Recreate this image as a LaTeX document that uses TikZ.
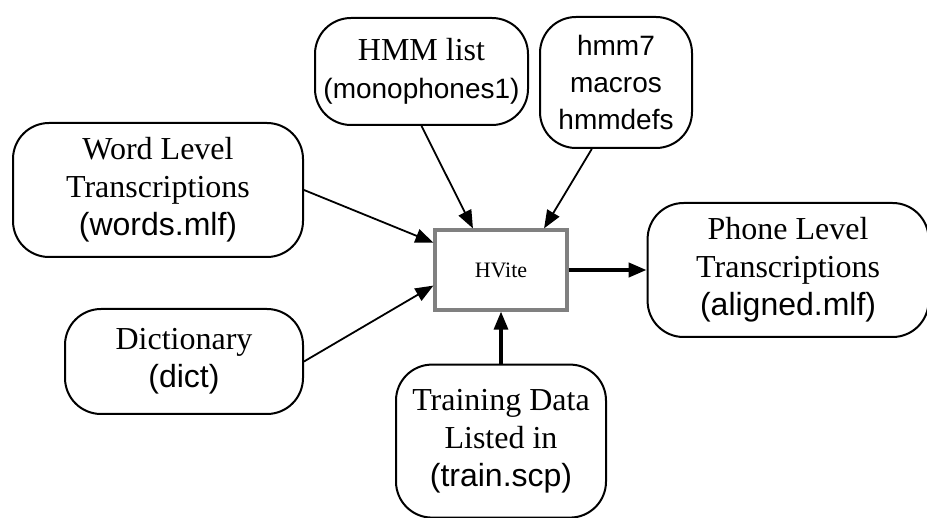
\documentclass[tikz,border=0pt]{standalone}
\usepackage{fontspec}
\setmainfont{Liberation Serif}
\setsansfont{Liberation Sans}
\usepackage{tikz}
\usetikzlibrary{positioning, arrows.meta}

\begin{document}
\begin{tikzpicture}[x = 0.5pt, y = -0.5pt,
                    file/.style = {draw, line width = 1pt, rounded corners = 18pt, align = center,
                                   inner sep = 0pt, font = \fontsize{16}{19}\selectfont},
                    tool/.style = {draw = gray, line width = 1.6pt, minimum width = 66pt,
                                   minimum height = 40pt, font = \fontsize{11}{13}\selectfont},
                    arr/.style = {-{Triangle[length = 9pt, width = 7pt]}, line width = 0.9pt}]
                    \useasboundingbox (0,0) rectangle (927,518);
                    \node[tool] at (501,270) (V) {HVite};
                    \node[file, minimum width = 106.5pt, minimum height = 53.5pt] at (421.5,71.5) (H)
                        {HMM list\\{\sffamily\fontsize{14}{19}\selectfont(monophones1)}};
                    \node[file, minimum width = 76pt, minimum height = 65.5pt, font = \sffamily\fontsize{14}{18.5}\selectfont] at (616,82.5) (M)
                        {hmm7\\macros\\hmmdefs};
                    \node[file, minimum width = 145pt, minimum height = 67pt] at (158,190) (W)
                        {Word Level\\Transcriptions\\{\sffamily(words.mlf)}};
                    \node[file, minimum width = 119pt, minimum height = 52.5pt] at (184,361.5) (D)
                        {Dictionary\\{\sffamily(dict)}};
                    \node[file, minimum width = 140.5pt, minimum height = 67pt, right = 39pt of V] (P)
                        {Phone Level\\Transcriptions\\{\sffamily(aligned.mlf)}};
                    \node[file, minimum width = 105pt, minimum height = 76.5pt, below = 26pt of V] (T)
                        {Training Data\\Listed in\\{\sffamily(train.scp)}};

                    \draw [arr] (W.east) -- (V.158);
                    \draw [arr] (D.east) -- (V.193);
                    \draw [arr] (H.south) -- (V.124);
                    \draw [arr] (M.250) -- (V.44);
                    \draw [arr, line width = 2pt] (V.east) -- (P.west);
                    \draw [arr, line width = 1.6pt] (T.north) -- (V.south);
                \end{tikzpicture}
\end{document}
